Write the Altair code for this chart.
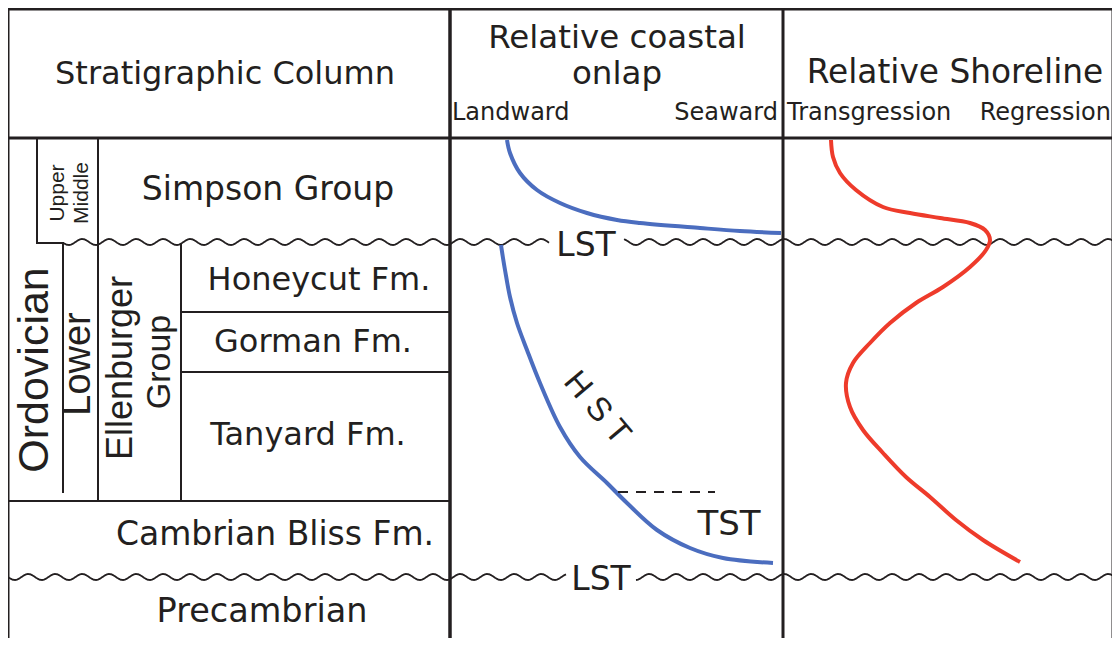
import altair as alt
import pandas as pd
import numpy as np

INK = "#231F20"
BLUE = "#4B6DBF"
RED = "#EE3B2B"

# ---------------- data (diagram pixel space) ----------------
# frame segments: x1, y1, x2, y2, width
frame_x1 = [8, 8, 8, 450, 783, 1113, 37, 37, 63, 98, 181, 181, 181, 8]
frame_y1 = [9, 138, 9, 9, 9, 9, 138, 243, 243, 138, 245, 312, 372, 501]
frame_x2 = [1113, 1113, 8, 450, 783, 1113, 37, 63, 63, 98, 181, 450, 450, 450]
frame_y2 = [9, 138, 646, 646, 646, 646, 243, 243, 492, 501, 501, 312, 372, 501]
frame_w = [3, 3, 3, 3.5, 3, 3, 2, 2, 2, 2, 2, 2, 2, 2]

# unconformity (wavy) segments: x start, x end, level
wave_x0 = [63, 450, 624, 8, 450, 636]
wave_x1 = [450, 549, 1113, 450, 566, 1113]
wave_y = [242, 242, 242, 577, 577, 577]

# relative coastal onlap curves (blue)
onlap_upper_x = [507, 510, 520, 537, 560, 587, 617, 640, 700, 740, 781]
onlap_upper_y = [140, 153, 173, 190, 203, 213, 220, 223, 228, 231, 233]
onlap_lower_x = [501, 503, 505, 510, 517, 527, 540, 560, 580, 607, 627, 657, 690, 723, 773]
onlap_lower_y = [245, 258, 270, 297, 323, 350, 383, 427, 457, 483, 503, 530, 548, 558, 563]

# relative shoreline curve (red)
shore_x = [831, 833, 840, 856, 883, 910, 940, 970, 985, 990, 986, 970, 943, 916,
           890, 870, 853, 846, 850, 863, 883, 906, 930, 956, 983, 1020]
shore_y = [140, 157, 173, 190, 207, 213, 218, 223, 230, 240, 250, 267, 287, 303,
           323, 343, 363, 383, 407, 430, 453, 477, 497, 520, 540, 562]

# HST/TST boundary (dashed)
dash_x = [618, 715]
dash_y = [492, 492]

# labels
h_labels = ["Stratigraphic Column", "Relative coastal", "onlap", "Relative Shoreline",
            "Simpson Group", "Honeycut Fm.", "Gorman Fm.", "Tanyard Fm.",
            "Cambrian Bliss Fm.", "Precambrian", "LST", "LST", "TST"]
h_x = [225, 617, 617, 955, 268, 319, 313, 308, 275, 262, 586, 601, 729]
h_y = [84, 48, 84, 83, 200, 290, 352, 445, 545, 622, 256, 590, 535]
h_size = [32, 32.5, 32.5, 32.8, 33, 32, 32, 32, 33, 33.5, 33, 33, 34]

left_labels = ["Landward", "Transgression"]
left_x = [452, 787]
right_labels = ["Seaward", "Regression"]
right_x = [778, 1111]
sub_y = 120
sub_size = 24

v_labels = ["Ordovician", "Upper", "Middle", "Lower", "Ellenburger", "Group"]
v_x = [48, 64, 88, 90, 132, 170]
v_y = [370, 193, 193, 364, 368, 362]
v_size = [43, 21, 21, 38, 36, 34]

hst_label = "H S T"
hst_x, hst_y, hst_angle = 597, 408, 50

# ---------------- scales ----------------
xs = alt.Scale(domain=[8, 1112], nice=False, zero=False)
ys = alt.Scale(domain=[8, 638], nice=False, zero=False, reverse=True)

def X(f="x"):
    return alt.X(f"{f}:Q", scale=xs, axis=None)

def Y(f="y"):
    return alt.Y(f"{f}:Q", scale=ys, axis=None)

# frame
frame_df = pd.DataFrame({"x": frame_x1, "y": frame_y1, "x2": frame_x2, "y2": frame_y2, "w": frame_w})
frame = alt.Chart(frame_df).mark_rule(color=INK, strokeCap="square").encode(
    x=X(), y=Y(), x2="x2:Q", y2="y2:Q",
    size=alt.Size("w:Q", scale=None, legend=None),
)

# wavy unconformity symbol (line style: period 27 px, amplitude 3 px)
rows = []
for i, (a, b, lvl) in enumerate(zip(wave_x0, wave_x1, wave_y)):
    xx = np.arange(a, b + 0.5, 1.0)
    yy = lvl + 3.0 * np.sin(2 * np.pi * (xx - 8) / 27.0)
    for k, (px, py) in enumerate(zip(xx, yy)):
        rows.append({"seg": i, "k": k, "x": float(px), "y": float(py)})
wave_df = pd.DataFrame(rows)
waves = alt.Chart(wave_df).mark_line(color=INK, strokeWidth=1.8).encode(
    x=X(), y=Y(), detail="seg:N", order="k:Q"
)

def curve(xv, yv, color, name):
    df = pd.DataFrame({"x": xv, "y": yv, "k": list(range(len(xv))), "c": name})
    return alt.Chart(df).mark_line(color=color, strokeWidth=4, interpolate="catmull-rom").encode(
        x=X(), y=Y(), order="k:Q"
    )

blue1 = curve(onlap_upper_x, onlap_upper_y, BLUE, "u")
blue2 = curve(onlap_lower_x, onlap_lower_y, BLUE, "l")
red = curve(shore_x, shore_y, RED, "s")

dash = alt.Chart(pd.DataFrame({"x": [dash_x[0]], "y": [dash_y[0]], "x2": [dash_x[1]], "y2": [dash_y[1]]})).mark_rule(
    color=INK, strokeWidth=2, strokeDash=[10, 8]
).encode(x=X(), y=Y(), x2="x2:Q", y2="y2:Q")

def text_layer(df, align, baseline="alphabetic", font="DejaVu Sans"):
    return alt.Chart(df).mark_text(align=align, baseline=baseline, font=font, color=INK).encode(
        x=X(), y=Y(), text="label:N",
        size=alt.Size("size:Q", scale=None, legend=None),
        angle=alt.Angle("angle:Q", scale=None, legend=None),
    )

h_df = pd.DataFrame({"label": h_labels, "x": h_x, "y": h_y, "size": h_size, "angle": 0})
l_df = pd.DataFrame({"label": left_labels, "x": left_x, "y": sub_y, "size": sub_size, "angle": 0})
r_df = pd.DataFrame({"label": right_labels, "x": right_x, "y": sub_y, "size": sub_size, "angle": 0})
v_df = pd.DataFrame({"label": v_labels, "x": v_x, "y": v_y, "size": v_size, "angle": 270})
hst_df = pd.DataFrame({"label": [hst_label], "x": [hst_x], "y": [hst_y], "size": [33], "angle": [hst_angle]})

chart = alt.layer(
    waves, frame, blue1, blue2, red, dash,
    text_layer(h_df, "center"), text_layer(l_df, "left"), text_layer(r_df, "right"),
    text_layer(v_df, "center", font="Liberation Sans"),
    text_layer(hst_df, "center", "middle", font="Liberation Sans"),
).properties(
    width=1104, height=630, padding=0, autosize=alt.AutoSizeParams(type="none"),
    background="white",
).configure_view(stroke=None)

chart.save("out.html", embed_options={"renderer": "svg", "actions": False})
